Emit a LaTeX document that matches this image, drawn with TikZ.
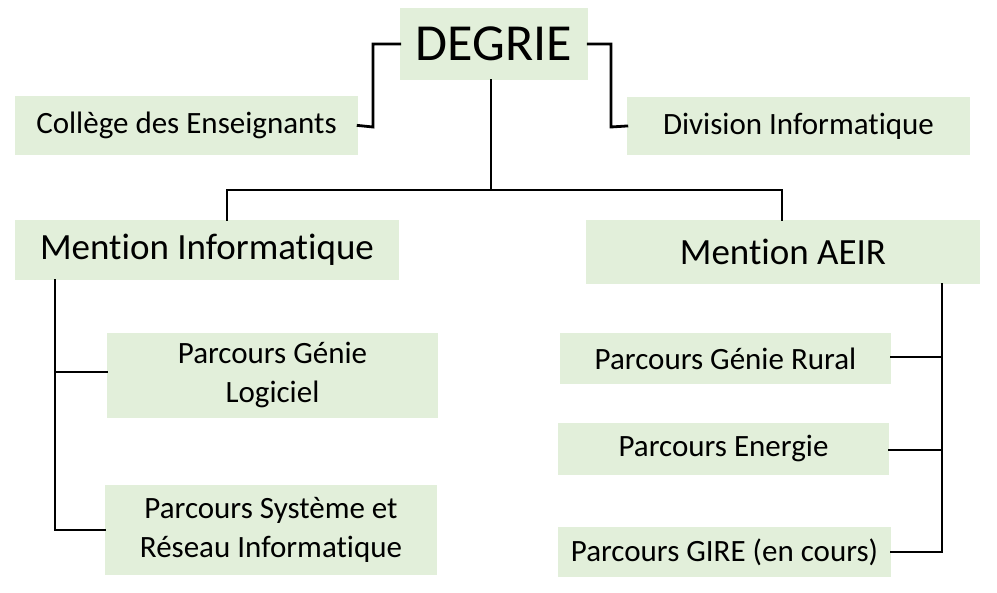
\documentclass[tikz,border=0pt]{standalone}
\usepackage{fontspec}
\setmainfont{Carlito}[Ligatures=NoCommon]
\definecolor{boxgreen}{HTML}{E2EFDA}
\tikzset{
  unit/.style={fill=boxgreen, inner sep=0pt, align=center, font=\fontsize{31}{39}\selectfont},
  link/.style={line width=2.8pt, line cap=rect}
}
\newcommand{\unitbox}[6]{% name, x1, y1, x2, y2, text
  \node[unit, minimum width={#4-#2}, minimum height={#5-#3}] (#1) at ({(#2+#4)/2},{(#3+#5)/2}) {#6};}
\begin{document}
\begin{tikzpicture}[x=1pt, y=-1pt]
  \useasboundingbox[fill=white] (0,0) rectangle (997,593);
  % top level
  \unitbox{degrie}{400}{8}{588}{80}{\fontsize{52}{60}\selectfont DEGRIE}
  \unitbox{college}{15}{96}{358}{155}{Collège des Enseignants}
  \unitbox{division}{627}{97}{970}{155}{Division Informatique}
  % mentions
  \unitbox{minfo}{15}{220}{399}{280}{\fontsize{37}{44}\selectfont Mention Informatique}
  \unitbox{maeir}{586}{220}{980}{284}{\fontsize{37}{44}\selectfont Mention AEIR}
  % parcours
  \unitbox{pgl}{107}{333}{438}{418}{Parcours Génie\\Logiciel}
  \unitbox{psri}{105}{485}{437}{575}{Parcours Système et\\Réseau Informatique}
  \unitbox{pgr}{560}{333}{891}{384}{Parcours Génie Rural}
  \unitbox{pen}{558}{423}{889}{475}{Parcours Energie}
  \unitbox{pgire}{558}{527}{891}{577}{Parcours GIRE (en cours)}
  % connectors
  \draw[link] (degrie.west) -| (373,127) -- (college.east);
  \draw[link] (degrie.east) -| (611,127) -- (division.west);
  \draw[link] (491,80) -- (491,190);
  \draw[link] (227,190) -- (782,190);
  \draw[link] (227,190) -- (227,220);
  \draw[link] (782,190) -- (782,220);
  \draw[link] (55,280) -- (55,530) -- (psri.west |- 0,530);
  \draw[link] (55,372) -- (pgl.west |- 0,372);
  \draw[link] (942,284) -- (942,552) -- (pgire.east |- 0,552);
  \draw[link] (942,357) -- (pgr.east |- 0,357);
  \draw[link] (942,450) -- (pen.east |- 0,450);
\end{tikzpicture}
\end{document}
